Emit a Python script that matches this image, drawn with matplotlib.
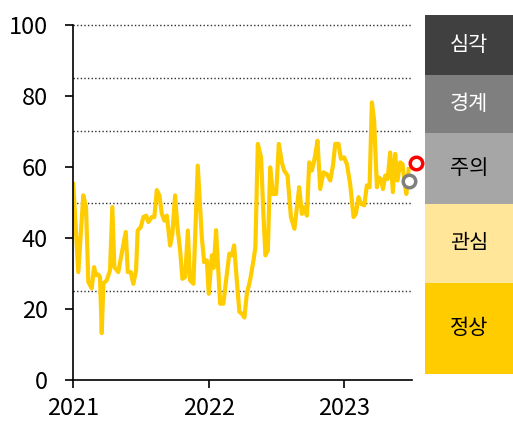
import matplotlib.pyplot as plt
from matplotlib.patches import Rectangle

plt.rcParams['font.family'] = ['Noto Sans CJK KR', 'DejaVu Sans']

# Index series (decimal year, value):
years = [2021.002, 2021.039, 2021.076, 2021.096, 2021.113, 2021.138, 2021.155, 2021.170,
         2021.187, 2021.199, 2021.212, 2021.224, 2021.249, 2021.273, 2021.290, 2021.305,
         2021.334, 2021.359, 2021.389, 2021.404, 2021.426, 2021.445, 2021.465, 2021.477,
         2021.500, 2021.519, 2021.539, 2021.556, 2021.581, 2021.600, 2021.618, 2021.637,
         2021.655, 2021.674, 2021.692, 2021.716, 2021.733, 2021.753, 2021.770, 2021.790,
         2021.807, 2021.827, 2021.847, 2021.863, 2021.888, 2021.920, 2021.950, 2021.967,
         2021.987, 2022.001, 2022.024, 2022.038, 2022.055, 2022.085, 2022.109, 2022.129,
         2022.153, 2022.171, 2022.188, 2022.208, 2022.227, 2022.245, 2022.264, 2022.282,
         2022.306, 2022.331, 2022.345, 2022.363, 2022.387, 2022.404, 2022.419, 2022.437,
         2022.454, 2022.474, 2022.498, 2022.518, 2022.540, 2022.557, 2022.582, 2022.607,
         2022.633, 2022.668, 2022.688, 2022.705, 2022.725, 2022.742, 2022.762, 2022.786,
         2022.803, 2022.823, 2022.847, 2022.872, 2022.897, 2022.917, 2022.934, 2022.958,
         2022.976, 2023.000, 2023.020, 2023.044, 2023.069, 2023.086, 2023.106, 2023.125,
         2023.148, 2023.167, 2023.187, 2023.204, 2023.221, 2023.241, 2023.253, 2023.271,
         2023.286, 2023.303, 2023.320, 2023.339, 2023.359, 2023.376, 2023.393, 2023.413,
         2023.430, 2023.443, 2023.458, 2023.475]
values = [55.2, 30.4, 52.0, 48.7, 27.6, 25.8, 31.8, 29.5,
          29.7, 29.0, 13.2, 27.2, 28.1, 30.9, 48.7, 31.8,
          30.4, 35.6, 41.7, 30.4, 30.4, 27.1, 30.9, 42.1,
          43.1, 45.9, 46.3, 44.5, 45.9, 45.9, 53.5, 52.0,
          46.8, 44.9, 46.3, 37.9, 41.2, 52.0, 43.1, 36.5,
          28.5, 29.0, 42.1, 28.1, 27.1, 60.4, 40.2, 33.2,
          33.7, 24.3, 35.1, 31.6, 42.2, 21.5, 21.5, 28.1,
          35.6, 35.1, 37.9, 28.1, 19.2, 18.7, 17.6, 24.3,
          28.1, 33.7, 37.4, 66.5, 62.7, 46.8, 35.1, 36.5,
          59.9, 52.4, 52.4, 66.5, 61.3, 59.0, 57.6, 45.9,
          42.6, 54.3, 46.8, 48.7, 46.3, 61.3, 59.0, 63.2,
          67.4, 53.8, 58.5, 58.0, 56.2, 60.4, 66.5, 66.5,
          62.3, 62.7, 60.8, 55.2, 45.9, 46.8, 51.5, 49.6,
          49.2, 54.8, 54.3, 78.2, 73.0, 54.3, 57.1, 56.6,
          53.8, 57.6, 56.6, 64.1, 52.9, 63.7, 56.2, 61.3,
          60.8, 56.2, 52.4, 59.4]

# Latest points (gray / red open circles):
last_x, last_val = 2023.476, 56.0
new_x, new_val = 2023.531, 61.0

# Threshold lines and stage bands:
thresholds = [25, 50, 70, 85, 100]
stage_labels = ['심각', '경계', '주의', '관심', '정상']
stage_colors = ['#404040', '#7f7f7f', '#a6a6a6', '#ffe699', '#ffcc00']
stage_text_colors = ['white', 'white', 'black', 'black', 'black']
stage_edges = [15, 75, 133, 204, 283, 374]  # band edges in pixels from top

W, H = 513, 433
fig = plt.figure(figsize=(W / 100, H / 100), dpi=100)
ax = fig.add_axes([73 / W, 1 - 380 / H, (412 - 73) / W, (380 - 25) / H])

for t in thresholds:
    ax.axhline(t, color='#303030', linestyle=(0, (1, 1.6)), linewidth=1.0, zorder=1,
               clip_on=False)

ax.plot(years, values, color='#ffcc00', linewidth=3.0, solid_joinstyle='round', zorder=2)
ax.plot([last_x], [last_val], 'o', markersize=9, markerfacecolor='white',
        markeredgecolor='#7f7f7f', markeredgewidth=2.5, zorder=3, clip_on=False)
ax.plot([new_x], [new_val], 'o', markersize=9, markerfacecolor='white',
        markeredgecolor='#ff0000', markeredgewidth=2.5, zorder=3, clip_on=False)

ax.set_xlim(2021, 2023.5)
ax.set_ylim(0, 100)
ax.set_xticks([2021, 2022, 2023])
ax.set_xticklabels(['2021', '2022', '2023'])
ax.set_yticks([0, 20, 40, 60, 80, 100])
ax.tick_params(axis='both', labelsize=17, length=6, width=1.2, direction='out')
ax.tick_params(axis='y', pad=12)
ax.tick_params(axis='x', pad=6)
for side in ['top', 'right']:
    ax.spines[side].set_visible(False)
ax.spines['left'].set_linewidth(1.2)
ax.spines['bottom'].set_linewidth(1.2)

# Stage legend panel on the right:
for i, lab in enumerate(stage_labels):
    top = stage_edges[i]
    bot = stage_edges[i + 1]
    fig.patches.append(Rectangle((425 / W, 1 - bot / H), (W - 425) / W, (bot - top) / H,
                                 transform=fig.transFigure, facecolor=stage_colors[i],
                                 edgecolor='none'))
    fig.text((425 + W) / 2 / W, 1 - (top + bot) / 2 / H, lab, ha='center', va='center',
             fontsize=15, color=stage_text_colors[i])

fig.savefig('out.png', dpi=100)
